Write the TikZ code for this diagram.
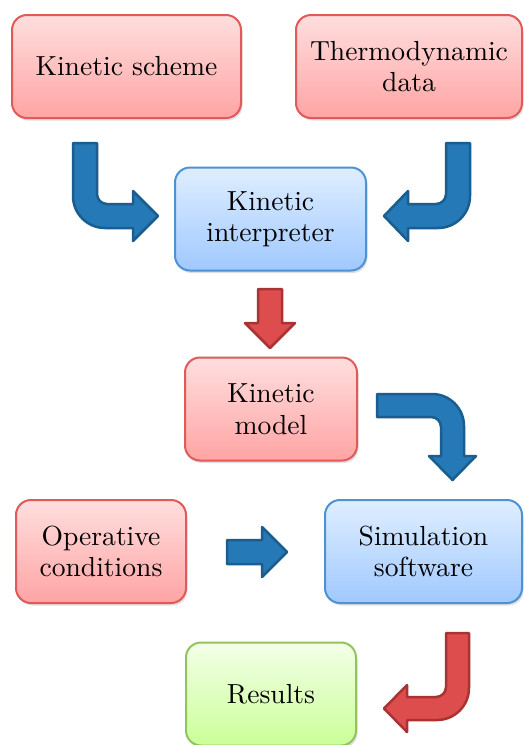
\documentclass[tikz,border=0pt]{standalone}
\usepackage{fontspec}
\setmainfont{lmroman10-regular}[Extension=.otf]
\usepackage{tikz}
\usetikzlibrary{shadows}

\definecolor{redline}{HTML}{E05A5A}
\definecolor{redtop}{HTML}{FFDEDE}
\definecolor{redbot}{HTML}{FFA4A4}
\definecolor{blueline}{HTML}{4D92D2}
\definecolor{bluetop}{HTML}{DFEEFF}
\definecolor{bluebot}{HTML}{A0C9FF}
\definecolor{greenline}{HTML}{92C45C}
\definecolor{greentop}{HTML}{F3FFE8}
\definecolor{greenbot}{HTML}{CBFF98}
\definecolor{arrowblue}{HTML}{2479B6}
\definecolor{arrowblueline}{HTML}{1A5D8E}
\definecolor{arrowred}{HTML}{DE4D4D}
\definecolor{arrowredline}{HTML}{A93333}

\begin{document}
\begin{tikzpicture}[x=1pt,y=-1pt,
  main node/.style={rounded corners=15pt,line width=2pt,minimum height=103pt,inner sep=0pt,
    align=center,font=\fontsize{27.6}{31.5}\selectfont,
    drop shadow={opacity=0.25,shadow xshift=1.5pt,shadow yshift=-2.5pt}},
  red node/.style={main node,draw=redline,top color=redtop,bottom color=redbot},
  blue node/.style={main node,draw=blueline,top color=bluetop,bottom color=bluebot},
  green node/.style={main node,draw=greenline,top color=greentop,bottom color=greenbot},
  blue arrow/.style={fill=arrowblue,draw=arrowblueline,line width=2.5pt,line join=round},
  red arrow/.style={fill=arrowred,draw=arrowredline,line width=2.5pt,line join=round}]

  \useasboundingbox[fill=white] (0,0) rectangle (523,745);

  \node[red node,minimum width=229pt] (scheme) at (126.5,66.5) {Kinetic scheme};
  \node[red node,minimum width=226pt] (thermo) at (409,66.5) {Thermodynamic\\data};
  \node[blue node,minimum width=191pt] (interp) at (270.5,219) {Kinetic\\interpreter};
  \node[red node,minimum width=172pt] (model) at (271,409) {Kinetic\\model};
  \node[red node,minimum width=170pt] (cond) at (101,551.5) {Operative\\conditions};
  \node[blue node,minimum width=197pt] (sim) at (423.5,551.5) {Simulation\\software};
  \node[green node,minimum width=170pt] (res) at (271,694) {Results};

  % scheme -> interpreter
  \draw[blue arrow] (73,143) -- (97,143) -- (97,194) .. controls (97,199.5) and (101.5,204) .. (107,204)
    -- (133,204) -- (133,191) -- (158,216) -- (133,241) -- (133,228) -- (105,228)
    .. controls (87.3,228) and (73,213.7) .. (73,196) -- cycle;
  % thermo -> interpreter
  \draw[blue arrow] (470,143) -- (446,143) -- (446,194) .. controls (446,199.5) and (441.5,204) .. (436,204)
    -- (408,204) -- (408,191) -- (384,216) -- (408,241) -- (408,228) -- (438,228)
    .. controls (455.7,228) and (470,213.7) .. (470,196) -- cycle;
  % interpreter -> model
  \draw[red arrow] (258,289) -- (282,289) -- (282,323) -- (295,323) -- (270,348)
    -- (245,323) -- (258,323) -- cycle;
  % model -> simulation
  \draw[blue arrow] (377,394) -- (432,394) .. controls (449.7,394) and (464,408.3) .. (464,426)
    -- (464,456) -- (476,456) -- (452.5,480) -- (429,456) -- (441,456) -- (441,427)
    .. controls (441,421.5) and (436.5,417) .. (431,417) -- (377,417) -- cycle;
  % conditions -> simulation
  \draw[blue arrow] (227,540) -- (262,540) -- (262,527) -- (287,552) -- (262,577)
    -- (262,564) -- (227,564) -- cycle;
  % simulation -> results
  \draw[red arrow] (469,633) -- (446,633) -- (446,687) .. controls (446,692.5) and (441.5,697) .. (436,697)
    -- (407,697) -- (407,685) -- (384,708.5) -- (407,732) -- (407,720) -- (437,720)
    .. controls (454.7,720) and (469,705.7) .. (469,688) -- cycle;
\end{tikzpicture}
\end{document}
